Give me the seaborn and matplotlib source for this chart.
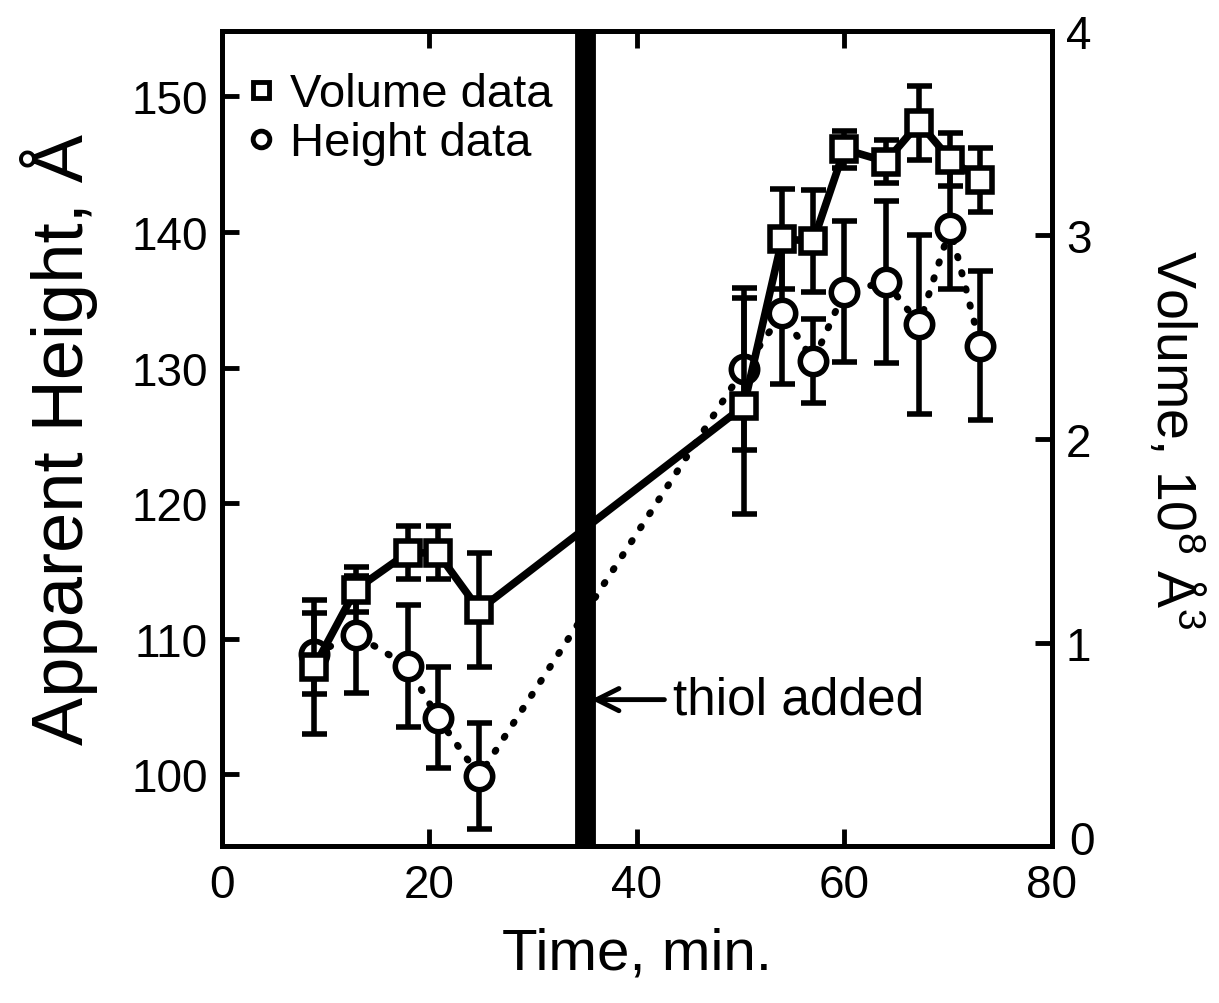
import pandas as pd
import seaborn as sns
import matplotlib.pyplot as plt
import matplotlib.transforms as mtransforms
from matplotlib.lines import Line2D

# Données
time_vol = [8.9, 12.9, 17.9, 20.8, 24.8, 50.3, 54.0, 57.0, 60.0, 64.0, 67.2, 70.2, 73.1]
volume = [0.88, 1.26, 1.44, 1.44, 1.16, 2.16, 2.98, 2.97, 3.42, 3.36, 3.55, 3.37, 3.27]
volume_err = [0.33, 0.11, 0.13, 0.13, 0.28, 0.53, 0.245, 0.25, 0.09, 0.106, 0.18, 0.13, 0.155]

time_h = [8.9, 12.9, 17.9, 20.8, 24.8, 50.3, 54.0, 57.0, 60.0, 64.0, 67.2, 70.2, 73.1]
height = [108.9, 110.3, 108.0, 104.2, 99.9, 129.9, 134.0, 130.5, 135.6, 136.3, 133.2, 140.3, 131.6]
height_err = [3.0, 4.3, 4.5, 3.7, 3.9, 6.0, 5.2, 3.1, 5.2, 6.0, 6.6, 4.5, 5.5]

thiol_time = 35

vol_df = pd.DataFrame({'Time': time_vol, 'Volume': volume, 'err': volume_err})
h_df = pd.DataFrame({'Time': time_h, 'Height': height, 'err': height_err})

sns.set_theme(style="ticks")
plt.rcParams['font.family'] = ['Liberation Sans', 'DejaVu Sans']
plt.rcParams['mathtext.fontset'] = 'custom'
plt.rcParams['mathtext.rm'] = 'Liberation Sans'
plt.rcParams['mathtext.default'] = 'regular'
plt.rcParams['text.color'] = 'black'
plt.rcParams['axes.labelcolor'] = 'black'

fig = plt.figure(figsize=(12.19, 10.04), dpi=100)
ax = fig.add_axes([0.182, 0.156, 0.681, 0.812])
ax2 = ax.twinx()

# Hauteur (axe gauche)
ax.errorbar(h_df['Time'], h_df['Height'], yerr=h_df['err'], fmt='none',
            ecolor='black', elinewidth=4, capsize=9, capthick=4, zorder=2)
sns.lineplot(data=h_df, x='Time', y='Height', ax=ax, color='black',
             linestyle=(0, (0.2, 2.2)), linewidth=5, sort=False, zorder=1,
             dash_capstyle='round')
ax.plot(h_df['Time'], h_df['Height'], linestyle='none', marker='o', ms=19,
        mfc='white', mec='black', mew=4, zorder=3)

# Volume (axe droit)
ax2.errorbar(vol_df['Time'], vol_df['Volume'], yerr=vol_df['err'], fmt='none',
             ecolor='black', elinewidth=4, capsize=9, capthick=4, zorder=2)
sns.lineplot(data=vol_df, x='Time', y='Volume', ax=ax2, color='black',
             linewidth=5.5, sort=False, zorder=1)
ax2.plot(vol_df['Time'], vol_df['Volume'], linestyle='none', marker='s', ms=17,
         mfc='white', mec='black', mew=4, zorder=3)

ax2.axvline(thiol_time, color='black', linewidth=15, zorder=5)

ax.set_xlim(0, 80)
ax.set_ylim(94.7, 154.8)
ax2.set_ylim(0, 4)
ax.set_xticks([0, 20, 40, 60, 80])
ax.set_yticks([100, 110, 120, 130, 140, 150])
ax2.set_yticks([0, 1, 2, 3, 4])

ax.set_xlabel('Time, min.', fontsize=42, labelpad=14)
ax.set_ylabel('Apparent Height, Å', fontsize=52, labelpad=24)
ax2.set_ylabel('Volume, 10$^8$ Å$^3$', fontsize=40, rotation=270, labelpad=80)

ax.tick_params(axis='x', direction='in', length=12, width=3.5, labelsize=33,
               pad=12, top=True, colors='black')
ax.tick_params(axis='y', direction='in', length=12, width=3.5, labelsize=33,
               pad=10, colors='black')
ax2.tick_params(axis='y', direction='in', length=12, width=3.5, labelsize=33,
                pad=10, colors='black')
for a in (ax, ax2):
    for s in a.spines.values():
        s.set_linewidth(3.5)
        s.set_color('black')

# le "0" de droite remonte un peu pour ne pas toucher le "80"
zero_lbl = ax2.get_yticklabels()[0]
zero_lbl.set_transform(zero_lbl.get_transform() +
                       mtransforms.ScaledTranslation(0.03, 0.09, fig.dpi_scale_trans))

ax2.annotate('thiol added', xy=(thiol_time + 0.6, 0.72), xytext=(43.5, 0.72),
             fontsize=37, va='center', ha='left', color='black',
             arrowprops=dict(arrowstyle='->', color='black', lw=3.5,
                             mutation_scale=40, shrinkA=4, shrinkB=0))

handles = [Line2D([], [], marker='s', ls='none', ms=12, mfc='white', mec='black', mew=3.5),
           Line2D([], [], marker='o', ls='none', ms=12, mfc='white', mec='black', mew=3.5)]
ax2.legend(handles, ['Volume data', 'Height data'], loc='upper left',
           bbox_to_anchor=(-0.012, 0.99), frameon=False, fontsize=34,
           handlelength=0.7, handletextpad=0.25, labelspacing=0.1, borderaxespad=0.3)

fig.savefig('out.png', dpi=100)
